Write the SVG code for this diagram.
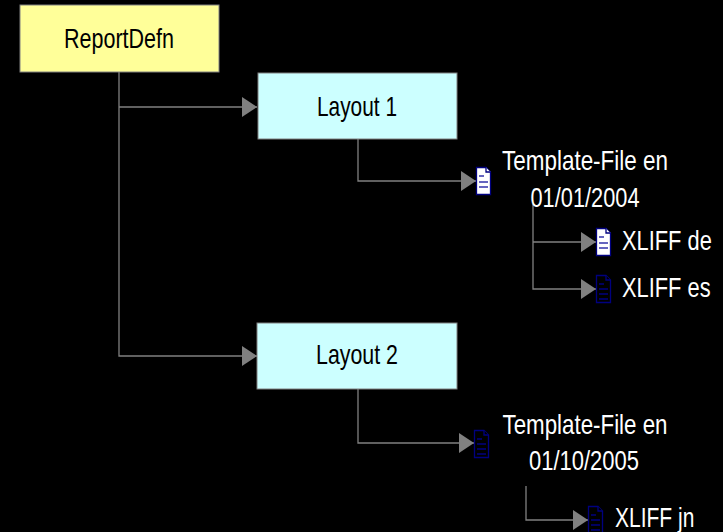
<svg xmlns="http://www.w3.org/2000/svg" width="723" height="532" viewBox="0 0 723 532">
<style>
.box{stroke:#808080;stroke-width:1}
.dk{font-family:"Liberation Sans",Arial,sans-serif;font-size:28px;fill:#000}
.lt{font-family:"Liberation Sans",Arial,sans-serif;font-size:28px;fill:#fff}
.con{fill:none;stroke:#808080;stroke-width:1.3}
.docw{fill:#fff;stroke:#000080;stroke-width:1.3}
.docd{fill:#000;stroke:#000080;stroke-width:1.3}
.dl{stroke:#3333aa;stroke-width:1.3}
.dd{stroke:#000080;stroke-width:1.3}
</style>
<defs>
<marker id="arr" markerUnits="userSpaceOnUse" markerWidth="15" markerHeight="20" refX="15" refY="10" orient="auto" viewBox="0 0 15 20">
<path d="M0,0 L15,10 L0,20 Z" fill="#808080"/>
</marker>
<g id="docW">
<path class="docw" d="M0.5,0.5 H10 L14.5,5 V27.5 H0.5 Z"/>
<path class="docw" d="M10,0.5 V5 H14.5"/>
<path class="dl" d="M3,9 H8 M3,15 H12 M3,20 H12"/>
</g>
<g id="docD">
<path class="docd" d="M0.5,0.5 H10 L14.5,5 V27.5 H0.5 Z"/>
<path class="docd" d="M10,0.5 V5 H14.5"/>
<path class="dd" d="M3,9 H8 M3,14 H12 M3,19 H12 M3,24 H12"/>
</g>
</defs>
<rect width="723" height="532" fill="#000"/>
<g id="connectors">
<path class="con" d="M119,72 V356 H257" marker-end="url(#arr)"/>
<path class="con" d="M119,107 H257" marker-end="url(#arr)"/>
<path class="con" d="M358,139 V181 H476" marker-end="url(#arr)"/>
<path class="con" d="M533,204 V289 H596" marker-end="url(#arr)"/>
<path class="con" d="M533,242 H596" marker-end="url(#arr)"/>
<path class="con" d="M358,389 V443 H474" marker-end="url(#arr)"/>
<path class="con" d="M526,486 V520 H588" marker-end="url(#arr)"/>
</g>
<g id="reportdefn">
<rect class="box" x="20" y="5" width="199" height="67" fill="#ffff99"/>
<text class="dk" x="119" y="48" text-anchor="middle" textLength="110" lengthAdjust="spacingAndGlyphs">ReportDefn</text>
</g>
<g id="layout1">
<rect class="box" x="258" y="73" width="199" height="66" fill="#ccffff"/>
<text class="dk" x="357" y="116" text-anchor="middle" textLength="80" lengthAdjust="spacingAndGlyphs">Layout 1</text>
</g>
<g id="layout2">
<rect class="box" x="257" y="323" width="200" height="66" fill="#ccffff"/>
<text class="dk" x="357" y="364" text-anchor="middle" textLength="82" lengthAdjust="spacingAndGlyphs">Layout 2</text>
</g>
<g id="template1">
<use href="#docW" x="476" y="167"/>
<text class="lt" x="585" y="170" text-anchor="middle" textLength="166" lengthAdjust="spacingAndGlyphs">Template-File en</text>
<text class="lt" x="585" y="207" text-anchor="middle" textLength="109" lengthAdjust="spacingAndGlyphs">01/01/2004</text>
</g>
<g id="xliffde">
<use href="#docW" x="596" y="228"/>
<text class="lt" transform="translate(622,250) scale(0.78,1)">XLIFF de</text>
</g>
<g id="xliffes">
<use href="#docD" x="596" y="275"/>
<text class="lt" transform="translate(622,297) scale(0.78,1)">XLIFF es</text>
</g>
<g id="template2">
<use href="#docD" x="474" y="430"/>
<text class="lt" x="585" y="434" text-anchor="middle" textLength="165" lengthAdjust="spacingAndGlyphs">Template-File en</text>
<text class="lt" x="584" y="470" text-anchor="middle" textLength="110" lengthAdjust="spacingAndGlyphs">01/10/2005</text>
</g>
<g id="xliffjn">
<use href="#docD" x="588" y="506"/>
<text class="lt" transform="translate(615,527) scale(0.75,1)">XLIFF jn</text>
</g>
</svg>
